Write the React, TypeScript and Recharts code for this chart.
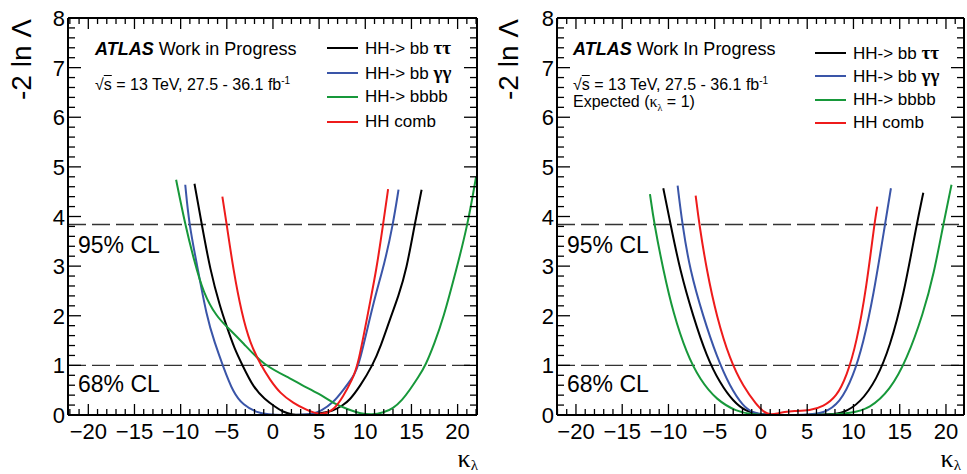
import React from 'react';
import { Legend, Line, LineChart, ReferenceLine, XAxis, YAxis } from 'recharts';

const FONT = '"Liberation Sans", Arial, Helvetica, sans-serif';
const SERIF = '"Liberation Serif", "DejaVu Serif", serif';

// legend / series
const seriesNames = ['HH-> bb ττ', 'HH-> bb γγ', 'HH-> bbbb', 'HH comb'];
const seriesColors = ['#000000', '#3a55a8', '#17983a', '#ee1b1b'];

// axes
const xMajorTicks = [-20, -15, -10, -5, 0, 5, 10, 15, 20];
const yMajorTicks = [0, 1, 2, 3, 4, 5, 6, 7, 8];
const clLevels = [3.84, 1];
const clLabels = ['95% CL', '68% CL'];

// observed (left) — [kappa, -2 ln L]
const obsBbtt = [
  [-8.5, 4.66], [-7.71, 3.84], [-6.8, 2.92], [-5.73, 2.18], [-5.0, 1.78], [-4.2, 1.35], [-3.3, 1.0],
  [-2.1, 0.55], [-0.9, 0.32], [0.2, 0.17], [1.1, 0.06], [2.0, 0.01], [3.0, 0.0], [4.2, 0.01], [5.0, 0.03],
  [6.5, 0.08], [7.6, 0.2], [8.3, 0.3], [9.4, 0.57], [10.8, 1.0], [11.7, 1.4], [12.65, 1.92], [13.6, 2.4],
  [14.45, 2.92], [15.35, 3.84], [16.1, 4.54],
];
const obsBbyy = [
  [-9.5, 4.64], [-9.08, 3.84], [-8.26, 3.06], [-7.18, 1.98], [-6.3, 1.45], [-5.44, 1.0], [-4.29, 0.44],
  [-3.21, 0.2], [-1.8, 0.05], [-0.5, 0.01], [1.0, 0.0], [3.0, 0.0], [4.5, 0.03], [5.1, 0.07], [6.5, 0.24],
  [7.6, 0.5], [8.7, 0.77], [9.33, 1.0], [10.84, 2.25], [12.1, 3.06], [13.0, 3.84], [13.6, 4.54],
];
const obsBbbb = [
  [-10.49, 4.74], [-9.51, 3.84], [-8.55, 3.12], [-7.53, 2.45], [-6.09, 1.98], [-5.0, 1.78], [-3.21, 1.45],
  [-1.05, 1.0], [2.2, 0.71], [2.9, 0.62], [5.1, 0.42], [6.5, 0.24], [8.3, 0.1], [9.5, 0.03], [10.7, 0.0],
  [12.0, 0.05], [13.0, 0.13], [14.0, 0.3], [14.8, 0.5], [15.7, 0.75], [16.54, 1.0], [17.5, 1.45],
  [18.41, 1.92], [19.85, 2.92], [21.1, 3.84], [22.0, 4.8],
];
const obsComb = [
  [-5.48, 4.4], [-5.01, 3.84], [-4.29, 2.92], [-3.39, 2.05], [-2.49, 1.45], [-1.3, 1.0], [-0.32, 0.71],
  [0.76, 0.44], [2.2, 0.24], [3.64, 0.1], [5.0, 0.0], [6.5, 0.07], [7.6, 0.37], [8.6, 0.72], [9.22, 1.0],
  [10.49, 2.25], [11.2, 2.92], [11.93, 3.84], [12.47, 4.55],
];

// expected (right)
const expBbtt = [
  [-10.56, 4.57], [-9.77, 3.84], [-8.76, 2.92], [-7.32, 1.98], [-5.87, 1.18], [-4.43, 0.64], [-2.99, 0.27],
  [-1.55, 0.06], [0.0, 0.01], [1.0, 0.0], [5.0, 0.0], [7.5, 0.01], [8.9, 0.04], [10.7, 0.24], [12.5, 0.71],
  [13.95, 1.38], [15.39, 2.38], [16.83, 3.84], [17.55, 4.48],
];
const expBbyy = [
  [-9.01, 4.62], [-8.5, 3.84], [-7.68, 2.92], [-6.24, 1.98], [-4.79, 1.18], [-3.35, 0.57], [-1.91, 0.17],
  [-0.83, 0.04], [0.5, 0.0], [5.0, 0.0], [6.74, 0.03], [8.54, 0.24], [9.98, 0.78], [11.06, 1.45],
  [12.14, 2.38], [13.41, 3.84], [14.05, 4.57],
];
const expBbbb = [
  [-12.0, 4.45], [-11.53, 3.84], [-10.56, 2.92], [-9.48, 2.05], [-8.04, 1.24], [-6.59, 0.71], [-4.79, 0.3],
  [-2.63, 0.07], [-1.0, 0.01], [1.0, 0.0], [5.0, 0.0], [7.5, 0.01], [9.6, 0.03], [11.78, 0.13],
  [13.95, 0.5], [15.75, 1.11], [17.55, 2.05], [18.7, 2.85], [19.71, 3.84], [20.6, 4.64],
];
const expComb = [
  [-7.06, 4.42], [-6.67, 3.84], [-5.87, 2.92], [-4.79, 1.98], [-3.35, 1.11], [-1.91, 0.57], [-0.46, 0.2],
  [0.3, 0.06], [1.0, 0.0], [1.8, 0.03], [2.5, 0.06], [3.5, 0.08], [5.3, 0.09], [6.74, 0.17], [8.18, 0.37],
  [9.26, 0.78], [10.34, 1.45], [11.42, 2.59], [12.25, 3.84], [12.57, 4.2],
];

const toPts = (a: number[][]) => a.map(([k, v]) => ({ k, v }));

const isMajorY = (v: number) => yMajorTicks.some((t) => Math.abs(v - t) < 1e-6);
const fmtX = (v: number) => (v < 0 ? `\u2212${-v}` : `${v}`);

const BottomTick = ({ x, y, payload }: any) => {
  const v = payload.value;
  const major = xMajorTicks.includes(v);
  return (
    <g>
      <line x1={x} x2={x} y1={y} y2={y - (major ? 11 : 6)} stroke="#000" strokeWidth={1.3} />
      {major && (
        <text x={x} y={y + 24} textAnchor="middle" fontFamily={FONT} fontSize={22} fill="#000">
          {fmtX(v)}
        </text>
      )}
    </g>
  );
};

const TopTick = ({ x, y, payload }: any) => {
  const major = xMajorTicks.includes(payload.value);
  return <line x1={x} x2={x} y1={y} y2={y + (major ? 11 : 6)} stroke="#000" strokeWidth={1.3} />;
};

const LeftTick = ({ x, y, payload }: any) => {
  const v = payload.value;
  const major = isMajorY(v);
  return (
    <g>
      <line x1={x} x2={x + (major ? 13 : 7)} y1={y} y2={y} stroke="#000" strokeWidth={1.3} />
      {major && (
        <text x={x - 3} y={y + 8} textAnchor="end" fontFamily={FONT} fontSize={22} fill="#000">
          {Math.round(v)}
        </text>
      )}
    </g>
  );
};

const RightTick = ({ x, y, payload }: any) => {
  const major = isMajorY(payload.value);
  return <line x1={x} x2={x - (major ? 13 : 7)} y1={y} y2={y} stroke="#000" strokeWidth={1.3} />;
};

const greek = (name: string) => {
  const m = name.match(/^(.*?)([τγ]+)$/);
  if (!m) return name;
  return (
    <>
      {m[1]}
      <span style={{ fontFamily: SERIF, fontWeight: 'bold', fontSize: 19 }}>{m[2]}</span>
    </>
  );
};

const makeLegend = (rowH: number) => (props: any) => {
  const items = [...(props.payload || [])].sort(
    (a: any, b: any) => seriesNames.indexOf(a.value) - seriesNames.indexOf(b.value),
  );
  return (
    <div style={{ fontFamily: FONT, fontSize: 17, color: '#000' }}>
      {items.map((p: any) => (
        <div key={p.value} style={{ display: 'flex', alignItems: 'center', height: rowH, whiteSpace: 'nowrap' }}>
          <span style={{ display: 'inline-block', width: 31, borderTop: `2.5px solid ${p.color}`, marginRight: 7 }} />
          <span>{greek(p.value)}</span>
        </div>
      ))}
    </div>
  );
};

const abs = (left: number, baseline: number, fs: number): React.CSSProperties => ({
  position: 'absolute',
  left,
  top: baseline - 0.8465 * fs,
  fontSize: fs,
  lineHeight: `${fs}px`,
  fontFamily: FONT,
  color: '#000',
  whiteSpace: 'nowrap',
});

interface PanelProps {
  left: number;
  width: number;
  marginLeft: number;
  marginRight: number;
  domain: [number, number];
  series: number[][][];
  expected?: boolean;
  titleX: number;
  textX: number;
  legendLeft: number;
  legendTop: number;
  legendRow: number;
  clX: number;
  kappaRight: number;
}

function Panel(p: PanelProps) {
  const xTicks = Array.from({ length: 45 }, (_, i) => i - 22).filter((t) => t >= p.domain[0] && t <= p.domain[1]);
  const yTicks = Array.from({ length: 41 }, (_, i) => i / 5);
  return (
    <div style={{ position: 'absolute', left: p.left, top: 0, width: p.width, height: 474 }}>
      <LineChart
        width={p.width}
        height={474}
        margin={{ top: 17, right: p.marginRight, bottom: 29, left: p.marginLeft }}
      >
        <XAxis
          xAxisId="b"
          type="number"
          dataKey="k"
          domain={p.domain}
          allowDataOverflow
          ticks={xTicks}
          interval={0}
          height={30}
          tickSize={0}
          tickMargin={0}
          tickLine={false}
          axisLine={{ stroke: '#000', strokeWidth: 2 }}
          tick={<BottomTick />}
        />
        <XAxis
          xAxisId="t"
          orientation="top"
          type="number"
          dataKey="k"
          domain={p.domain}
          allowDataOverflow
          ticks={xTicks}
          interval={0}
          height={1}
          tickSize={0}
          tickMargin={0}
          tickLine={false}
          axisLine={{ stroke: '#000', strokeWidth: 2 }}
          tick={<TopTick />}
        />
        <YAxis
          yAxisId="l"
          type="number"
          domain={[0, 8]}
          allowDataOverflow
          ticks={yTicks}
          interval={0}
          width={60}
          tickSize={0}
          tickMargin={0}
          tickLine={false}
          axisLine={{ stroke: '#000', strokeWidth: 2 }}
          tick={<LeftTick />}
        />
        <YAxis
          yAxisId="r"
          orientation="right"
          type="number"
          domain={[0, 8]}
          allowDataOverflow
          ticks={yTicks}
          interval={0}
          width={1}
          tickSize={0}
          tickMargin={0}
          tickLine={false}
          axisLine={{ stroke: '#000', strokeWidth: 2 }}
          tick={<RightTick />}
        />
        {clLevels.map((c) => (
          <ReferenceLine key={c} xAxisId="b" yAxisId="l" y={c} stroke="#333" strokeWidth={1.4} strokeDasharray="18 6" />
        ))}
        {p.series.map((s, i) => (
          <Line
            key={seriesNames[i]}
            xAxisId="b"
            yAxisId="l"
            data={toPts(s)}
            dataKey="v"
            name={seriesNames[i]}
            type="basis"
            stroke={seriesColors[i]}
            strokeWidth={2}
            dot={false}
            isAnimationActive={false}
          />
        ))}
        <Legend
          layout="vertical"
          align="center"
          verticalAlign="middle"
          content={makeLegend(p.legendRow)}
          wrapperStyle={{ left: p.legendLeft, top: p.legendTop, width: 160 }}
        />
      </LineChart>

      <div
        style={{
          position: 'absolute',
          left: p.titleX,
          top: 100,
          transformOrigin: 'left top',
          transform: 'rotate(-90deg)',
          fontFamily: FONT,
          fontSize: 28,
          lineHeight: '28px',
          whiteSpace: 'nowrap',
        }}
      >
        -2 ln Λ
      </div>

      <div style={abs(p.textX, 55, 18)}>
        <b>
          <i>ATLAS</i>
        </b>{' '}
        {p.expected ? 'Work In Progress' : 'Work in Progress'}
      </div>
      <div style={abs(p.textX, 87, 16)}>
        √<span style={{ textDecoration: 'overline' }}>s</span> = 13 TeV, 27.5 - 36.1 fb
        <sup style={{ fontSize: 10 }}>-1</sup>
      </div>
      {p.expected && (
        <div style={abs(p.textX, 108, 16)}>
          Expected (<span style={{ fontFamily: SERIF }}>κ</span>
          <sub style={{ fontSize: 10, fontFamily: SERIF }}>λ</sub> = 1)
        </div>
      )}

      <div style={abs(p.clX, 253, 23)}>{clLabels[0]}</div>
      <div style={abs(p.clX, 392, 23)}>{clLabels[1]}</div>

      <div
        style={{
          position: 'absolute',
          left: p.kappaRight - 40,
          width: 40,
          top: 446,
          height: 26,
          textAlign: 'right',
          fontFamily: SERIF,
          fontSize: 26,
          lineHeight: '26px',
          whiteSpace: 'nowrap',
        }}
      >
        κ<span style={{ fontSize: 15, position: 'relative', top: 3 }}>λ</span>
      </div>
    </div>
  );
}

export default function App() {
  return (
    <div style={{ position: 'absolute', left: 0, top: 0, width: 967, height: 474, background: '#fff', overflow: 'hidden' }}>
      <Panel
        left={0}
        width={483}
        marginLeft={8}
        marginRight={5}
        domain={[-22.2, 22.1]}
        series={[obsBbtt, obsBbyy, obsBbbb, obsComb]}
        titleX={8}
        textX={95}
        legendLeft={327}
        legendTop={36}
        legendRow={24.5}
        clX={78}
        kappaRight={478}
      />
      <Panel
        left={480}
        width={487}
        marginLeft={17}
        marginRight={2}
        domain={[-22.05, 21.95]}
        series={[expBbtt, expBbyy, expBbbb, expComb]}
        expected
        titleX={15}
        textX={93}
        legendLeft={335}
        legendTop={41}
        legendRow={23.5}
        clX={87}
        kappaRight={481}
      />
    </div>
  );
}
